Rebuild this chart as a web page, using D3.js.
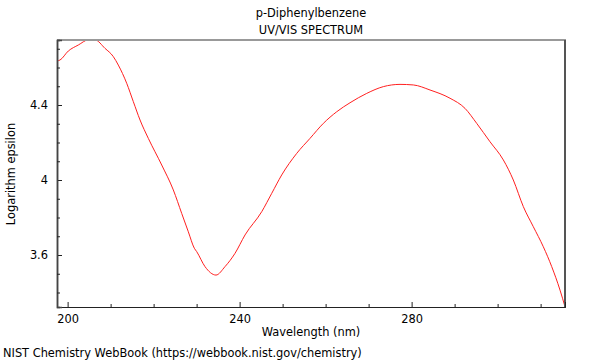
<!DOCTYPE html>
<html><head><meta charset="utf-8">
<script src="https://cdn.jsdelivr.net/npm/d3@7"></script>
<style>body{margin:0;background:#fff}svg{display:block}text{font-family:"DejaVu Sans",sans-serif;font-size:11.4px;fill:#000}</style>
</head><body><svg id="c" width="600" height="360"></svg>
<script>
const titleLines = ["p-Diphenylbenzene", "UV/VIS SPECTRUM"];
const xLabel = "Wavelength (nm)";
const yLabel = "Logarithm epsilon";
const footer = "NIST Chemistry WebBook (https://webbook.nist.gov/chemistry)";
const wavelength = [197.53,198.23,200.16,202.49,204.81,206.37,208.70,210.63,211.79,213.74,215.28,216.84,218.77,221.88,224.58,226.53,228.07,229.47,230.02,231.95,234.51,236.60,238.93,241.26,245.14,247.47,249.79,253.28,256.37,259.47,262.58,265.67,269.56,273.42,277.30,280.40,284.28,288.93,292.42,295.14,298.23,301.33,303.65,305.98,308.30,310.63,312.58,314.51,315.67];
const logEps = [4.635,4.640,4.688,4.720,4.747,4.747,4.702,4.658,4.613,4.516,4.418,4.320,4.222,4.080,3.947,3.822,3.724,3.636,3.618,3.538,3.493,3.538,3.609,3.707,3.831,3.929,4.027,4.142,4.222,4.302,4.364,4.412,4.462,4.498,4.510,4.507,4.480,4.436,4.382,4.302,4.204,4.107,4.000,3.858,3.751,3.644,3.538,3.413,3.324];
const xMajor = [200,240,280];
const xMinor = [210,220,230,250,260,270,290,300,310];
const yMajor = [3.6,4.0,4.4];
const yMinor = [3.4,3.5,3.7,3.8,3.9,4.1,4.2,4.3,4.5,4.6,4.7];

const L=57,R=565,T=40,B=307;
const svg=d3.select("#c");
const x=d3.scaleLinear().domain([197.53,315.67]).range([L,R]);
const y=d3.scaleLinear().domain([3.3227,4.7467]).range([B,T]);

svg.append("clipPath").attr("id","cp").append("rect").attr("x",L).attr("y",T).attr("width",R-L).attr("height",B-T);
svg.append("path").datum(wavelength.map((w,i)=>[w,logEps[i]]))
  .attr("clip-path","url(#cp)")
  .attr("fill","none").attr("stroke","#ff2020").attr("stroke-width",1)
  .attr("d",d3.line().x(d=>x(d[0])).y(d=>y(d[1])).curve(d3.curveMonotoneX));

// frame
svg.append("line").attr("x1",L).attr("x2",R+1).attr("y1",T).attr("y2",T).attr("stroke","#999").attr("stroke-width",2);
svg.append("line").attr("x1",R).attr("x2",R).attr("y1",T).attr("y2",B).attr("stroke","#555").attr("stroke-width",2);

// axes with inward ticks
const xAx=svg.append("g").attr("transform",`translate(0,${B})`);
xAx.call(d3.axisBottom(x).tickValues(xMajor).tickSize(-5).tickPadding(8).tickFormat(d3.format("d")));
xAx.append("g").call(d3.axisBottom(x).tickValues(xMinor).tickSize(-3).tickFormat(""));
const yAx=svg.append("g").attr("transform",`translate(${L},0)`);
yAx.call(d3.axisLeft(y).tickValues(yMajor).tickSize(-5).tickPadding(9).tickFormat(d=>d===4?"4":d3.format(".1f")(d)));
yAx.append("g").call(d3.axisLeft(y).tickValues(yMinor).tickSize(-3).tickFormat(""));
svg.selectAll(".domain").attr("stroke","#222");
yAx.selectAll(".domain").attr("stroke","#444").attr("stroke-width",1.5);
svg.selectAll(".tick line").attr("stroke","#222");
svg.selectAll(".tick text").style("font-family","DejaVu Sans").style("font-size","11.4px").attr("fill","#000");

svg.append("text").attr("x",311).attr("y",17).attr("text-anchor","middle").text(titleLines[0]);
svg.append("text").attr("x",311).attr("y",34).attr("text-anchor","middle").text(titleLines[1]);
svg.append("text").attr("x",311).attr("y",336).attr("text-anchor","middle").text(xLabel);
svg.append("text").attr("transform","translate(15,174) rotate(-90)").attr("text-anchor","middle").text(yLabel);
svg.append("text").attr("x",3).attr("y",357).text(footer);
</script></body></html>
